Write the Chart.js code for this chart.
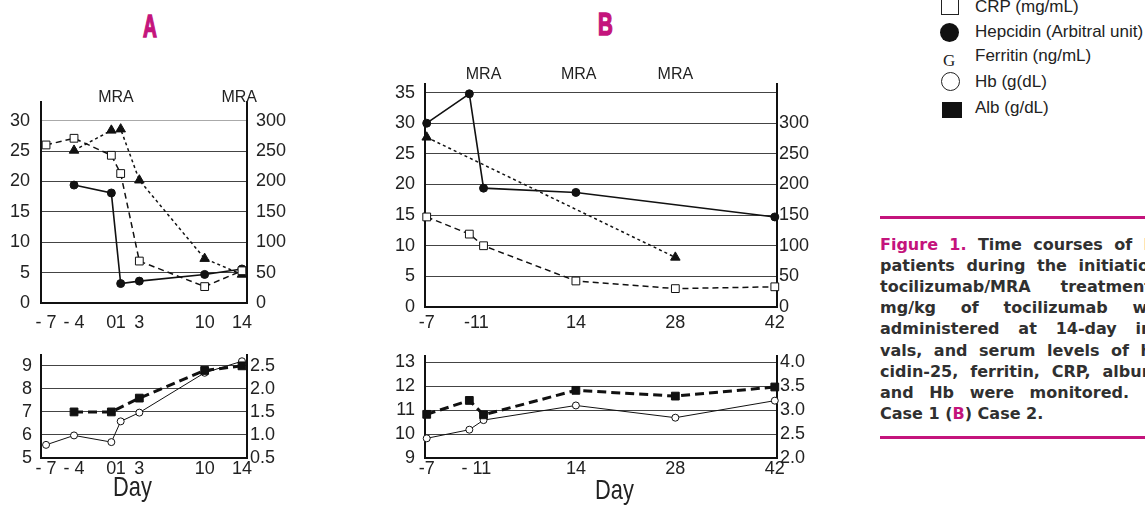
<!DOCTYPE html>
<html>
<head>
<meta charset="utf-8">
<script src="https://cdn.jsdelivr.net/npm/chart.js@4.4.0/dist/chart.umd.min.js"></script>
<style>
body { margin:0; width:1145px; height:505px; overflow:hidden; background:#fff; position:relative;
       font-family:"Liberation Sans", Arial, sans-serif; color:#222; }
canvas, .abs { position:absolute; }
.title { font-weight:bold; font-size:32px; color:#c4147c; line-height:34px; transform-origin:left top;
         -webkit-text-stroke:1.6px #c4147c; }
.day { font-size:28px; line-height:28px; transform:scaleX(0.78); transform-origin:left top; }
.leg { left:975px; font-size:17px; line-height:20px; white-space:nowrap; }
.cap { left:880px; font-family:"DejaVu Sans", sans-serif; font-weight:bold; font-size:16px; line-height:20px; white-space:nowrap; color:#303030; }
.mag { color:#c4147c; }
.rule { left:880px; width:265px; height:3px; background:#c4147c; }
</style>
</head>
<body>
<div class="abs title" style="left:143px;top:9px;transform:scaleX(0.6)">A</div>
<div class="abs title" style="left:598px;top:7px;transform:scaleX(0.64)">B</div>

<canvas id="aTop" width="310" height="255" style="left:0;top:80px"></canvas>
<canvas id="aBot" width="310" height="170" style="left:0;top:335px"></canvas>
<canvas id="bTop" width="450" height="280" style="left:370px;top:55px"></canvas>
<canvas id="bBot" width="450" height="170" style="left:370px;top:335px"></canvas>

<div class="abs day" style="left:113px;top:473px">Day</div>
<div class="abs day" style="left:595px;top:476px">Day</div>

<!-- legend -->
<div class="abs" style="left:941px;top:-3px;width:16px;height:16px;border:1px solid #222"></div>
<div class="abs leg" style="top:-3px">CRP (mg/mL)</div>
<div class="abs" style="left:940px;top:23px;width:19px;height:19px;border-radius:50%;background:#111"></div>
<div class="abs leg" style="top:22px">Hepcidin (Arbitral unit)</div>
<div class="abs" style="left:943px;top:51px;font-family:'Liberation Serif',serif;font-size:17px;line-height:20px">G</div>
<div class="abs leg" style="top:46px">Ferritin (ng/mL)</div>
<div class="abs" style="left:941px;top:72px;width:17px;height:17px;border-radius:50%;border:1px solid #222"></div>
<div class="abs leg" style="top:72px">Hb (g(dL)</div>
<div class="abs" style="left:942px;top:102px;width:20px;height:16px;background:#111"></div>
<div class="abs leg" style="top:98px">Alb (g/dL)</div>

<!-- caption -->
<div class="abs rule" style="top:216px"></div>
<div class="abs rule" style="top:436px"></div>
<div id="caption"></div>

<script>
// Case 1 (A)
var daysA = [-7, -4, 0, 1, 3, 10, 14];
var crpA = [26, 27.1, 24.3, 21.3, 6.9, 2.7, 5.3];
var hepcidinA = [null, 19.4, 18.1, 3.2, 3.6, 4.7, 5.6];
var ferritinA = [null, 251, 284, 286, 202, 73, 47];
var hbA = [5.57, 5.98, 5.69, 6.59, 6.97, 8.7, 9.2];
var albA = [null, 1.5, 1.5, null, 1.8, 2.4, 2.5];
var tickDaysA = [-7, -4, 0, 1, 3, 10, 14];
var tickLabelsA = ['- 7', '- 4', '0', '1', '3', '10', '14'];
var mraA = [0.5, 13.7];

// Case 2 (B)
var daysB = [-7, -1, 1, 14, 28, 42];
var crpB = [14.7, 11.9, 10, 4.25, 3.0, 3.3];
var hepcidinB = [30, 34.8, 19.4, 18.7, null, 14.7];
var ferritinB = [277, null, null, null, 81, null];
var hbB = [9.82, 10.18, 10.58, 11.19, 10.68, 11.39];
var albB = [2.91, 3.2, 2.9, 3.41, 3.29, 3.48];
var tickDaysB = [-7, 0, 14, 28, 42];
var tickLabelsBTop = ['-7', '-11', '14', '28', '42'];
var tickLabelsBBot = ['-7', '- 11', '14', '28', '42'];
var mraB = [1, 14.4, 28];

// axis ticks
var leftTopA = [0, 5, 10, 15, 20, 25, 30];
var rightTopA = [0, 50, 100, 150, 200, 250, 300];
var leftBotA = [5, 6, 7, 8, 9];
var rightBotA = [0.5, 1.0, 1.5, 2.0, 2.5];
var leftTopB = [0, 5, 10, 15, 20, 25, 30, 35];
var rightTopB = [0, 50, 100, 150, 200, 250, 300];
var leftBotB = [9, 10, 11, 12, 13];
var rightBotB = [2.0, 2.5, 3.0, 3.5, 4.0];

Chart.defaults.font.family = '"Liberation Sans", Arial, sans-serif';
Chart.defaults.font.size = 18;
Chart.defaults.color = '#222';

function pts(days, vals) {
  return days.map(function(d, i) { return {x: d, y: vals[i]}; });
}

var styles = {
  crp: {borderWidth: 1.5, borderDash: [6, 4], pointStyle: 'rect', pointRadius: 5.5, pointBackgroundColor: '#fff'},
  hep: {borderWidth: 1.6, pointStyle: 'circle', pointRadius: 4, pointBackgroundColor: '#111'},
  fer: {borderWidth: 1.5, borderDash: [3, 3], pointStyle: 'triangle', pointRadius: 5.5, pointBackgroundColor: '#111', yAxisID: 'y1'},
  hb: {borderWidth: 1, pointStyle: 'circle', pointRadius: 3.5, pointBackgroundColor: '#fff'},
  alb: {borderWidth: 3, borderDash: [9, 5], pointStyle: 'rect', pointRadius: 5.5, pointBackgroundColor: '#111', yAxisID: 'y1'}
};

function set(label, days, vals, st) {
  return Object.assign({
    label: label, data: pts(days, vals), borderColor: '#111', pointBorderColor: '#111',
    pointBorderWidth: 1, tension: 0, spanGaps: true, clip: false, yAxisID: 'y'
  }, st);
}

var mraPlugin = {
  id: 'mra',
  afterDraw: function(chart, args, o) {
    if (!o.days) return;
    var ctx = chart.ctx;
    ctx.save();
    ctx.font = '16px "Liberation Sans", Arial';
    ctx.fillStyle = '#222';
    ctx.textAlign = 'center';
    ctx.textBaseline = 'middle';
    o.days.forEach(function(d) {
      ctx.fillText('MRA', chart.scales.x.getPixelForValue(d), chart.chartArea.top + o.dy);
    });
    ctx.restore();
  }
};

function draw(id, c) {
  new Chart(document.getElementById(id), {
    type: 'line',
    data: {datasets: c.datasets},
    plugins: [mraPlugin],
    options: {
      responsive: false, animation: false, devicePixelRatio: 1,
      layout: {padding: {top: c.padTop, left: 0, right: 0, bottom: 0}},
      plugins: {legend: {display: false}, tooltip: {enabled: false}, mra: {days: c.mra, dy: c.mraDy}},
      scales: {
        x: {
          type: 'linear', min: c.xMin, max: c.xMax,
          afterBuildTicks: function(s) { s.ticks = c.xTicks.map(function(v) { return {value: v}; }); },
          afterFit: function(s) { s.height = c.xHeight; },
          ticks: {autoSkip: false, maxRotation: 0, padding: c.xPad, callback: function(v, i) { return c.xLabels[i]; }},
          grid: {display: false, drawTicks: false},
          border: {color: '#111', width: 2}
        },
        y: {
          position: 'left', min: c.yMin, max: c.yMax,
          afterBuildTicks: function(s) { s.ticks = c.yTicks.map(function(v) { return {value: v}; }); },
          afterFit: function(s) { s.width = c.leftW; },
          ticks: {padding: c.yPad},
          grid: {drawTicks: false, lineWidth: 1, color: function(ctx) {
            return ctx.tick && ctx.tick.value === c.grayAt ? '#aaa' : '#444';
          }},
          border: {color: '#111', width: 2}
        },
        y1: {
          position: 'right', min: c.y1Min, max: c.y1Max,
          afterBuildTicks: function(s) { s.ticks = c.y1Ticks.map(function(v) { return {value: v}; }); },
          afterFit: function(s) { s.width = c.rightW; },
          ticks: {padding: c.y1Pad, callback: function(v) { return c.y1Fmt ? v.toFixed(1) : v; }},
          grid: {display: false, drawTicks: false},
          border: {color: '#111', width: 2}
        }
      }
    }
  });
}

draw('aTop', {
  datasets: [set('CRP', daysA, crpA, styles.crp), set('Hepcidin', daysA, hepcidinA, styles.hep),
             set('Ferritin', daysA, ferritinA, styles.fer)],
  padTop: 21, leftW: 41, rightW: 63, xHeight: 32, xPad: 9, yPad: 11, y1Pad: 9,
  xMin: -7.54, xMax: 14.54, xTicks: tickDaysA, xLabels: tickLabelsA,
  yMin: 0, yMax: 33.1, yTicks: leftTopA, y1Min: 0, y1Max: 331, y1Ticks: rightTopA,
  grayAt: 30, mra: mraA, mraDy: -4
});

draw('aBot', {
  datasets: [set('Alb', daysA, albA, styles.alb), set('Hb', daysA, hbA, styles.hb)],
  padTop: 5, leftW: 41, rightW: 63, xHeight: 47, xPad: 0, yPad: 9, y1Pad: 3,
  xMin: -7.54, xMax: 14.54, xTicks: tickDaysA, xLabels: tickLabelsA,
  yMin: 5, yMax: 9.48, yTicks: leftBotA, y1Min: 0.5, y1Max: 2.74, y1Ticks: rightBotA, y1Fmt: true
});

draw('bTop', {
  datasets: [set('CRP', daysB, crpB, styles.crp), set('Hepcidin', daysB, hepcidinB, styles.hep),
             set('Ferritin', daysB, ferritinB, styles.fer)],
  padTop: 29, leftW: 55, rightW: 43, xHeight: 28, xPad: 5, yPad: 10, y1Pad: 2,
  xMin: -7.24, xMax: 42.31, xTicks: tickDaysB, xLabels: tickLabelsBTop,
  yMin: 0, yMax: 36.4, yTicks: leftTopB, y1Min: 0, y1Max: 364, y1Ticks: rightTopB,
  mra: mraB, mraDy: -9
});

draw('bBot', {
  datasets: [set('Alb', daysB, albB, styles.alb), set('Hb', daysB, hbB, styles.hb)],
  padTop: 9, leftW: 55, rightW: 43, xHeight: 47, xPad: 0, yPad: 10, y1Pad: 3,
  xMin: -7.24, xMax: 42.31, xTicks: tickDaysB, xLabels: tickLabelsBBot,
  yMin: 9, yMax: 13.26, yTicks: leftBotB, y1Min: 2, y1Max: 4.13, y1Ticks: rightBotB, y1Fmt: true
});

// caption lines: words, index of the word that is pinned, x where it starts
var capLines = [
  [['<span class="mag">Figure', '1.</span>', 'Time', 'courses', 'of', 'MCD'], 5, 1138],
  [['patients', 'during', 'the', 'initiation', 'of'], 3, 1073],
  [['tocilizumab/MRA', 'treatment.', '8'], 1, 1055],
  [['mg/kg', 'of', 'tocilizumab', 'was'], 3, 1127],
  [['administered', 'at', '14-day', 'inter-'], 3, 1130],
  [['vals,', 'and', 'serum', 'levels', 'of', 'hep-'], 5, 1135],
  [['cidin-25,', 'ferritin,', 'CRP,', 'albumin'], 3, 1097],
  [['and', 'Hb', 'were', 'monitored.'], 3, 1024],
  [['Case', '1', '(<span class="mag">B</span>)', 'Case', '2.'], 0, 880]
];
var cap = document.getElementById('caption');
capLines.forEach(function(l, i) {
  var div = document.createElement('div');
  div.className = 'abs cap';
  div.style.top = (235 + i * 21.1) + 'px';
  var probe = document.createElement('span');
  probe.innerHTML = l[0].slice(0, l[1]).join(' ') + (l[1] ? ' ' : '');
  div.appendChild(probe);
  cap.appendChild(div);
  var w = probe.getBoundingClientRect().width;
  var gaps = l[1];
  if (gaps > 0) div.style.wordSpacing = ((l[2] - 880 - w) / gaps) + 'px';
  div.innerHTML = l[0].join(' ');
});
</script>
</body>
</html>
